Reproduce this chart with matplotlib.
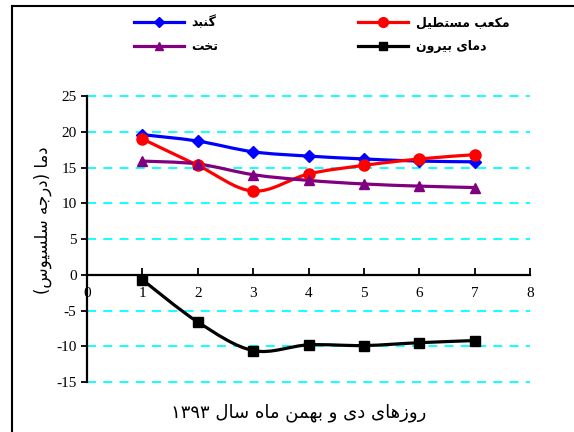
import matplotlib
matplotlib.use("Agg")
import matplotlib.pyplot as plt
from matplotlib.path import Path
from matplotlib.patches import PathPatch
from matplotlib.lines import Line2D
import numpy as np

# داده‌ها
days = [1, 2, 3, 4, 5, 6, 7]
gonbad = [19.6, 18.7, 17.2, 16.6, 16.2, 15.9, 15.8]
mokaab = [19.0, 15.3, 11.7, 14.1, 15.3, 16.2, 16.8]
takht = [15.9, 15.5, 14.0, 13.2, 12.7, 12.4, 12.2]
birun = [-0.7, -6.6, -10.6, -9.8, -9.9, -9.5, -9.2]

names = ["گنبد", "مکعب مستطیل", "تخت", "دمای بیرون"]
xlabel = "روزهای دی و بهمن ماه سال"
year = "۱۳۹۳"
ylabel = "دما (درجه سلسیوس)"
yticks = [-15, -10, -5, 0, 5, 10, 15, 20, 25]
xticks = [0, 1, 2, 3, 4, 5, 6, 7, 8]

plt.rcParams["axes.unicode_minus"] = False

# شکل‌دهی ساده حروف فارسی (matplotlib حروف را به هم نمی‌چسباند)
FORMS = {
    "ا": (0xFE8D, 0xFE8E, None, None),
    "ب": (0xFE8F, 0xFE90, 0xFE91, 0xFE92),
    "ت": (0xFE95, 0xFE96, 0xFE97, 0xFE98),
    "ج": (0xFE9D, 0xFE9E, 0xFE9F, 0xFEA0),
    "خ": (0xFEA5, 0xFEA6, 0xFEA7, 0xFEA8),
    "د": (0xFEA9, 0xFEAA, None, None),
    "ر": (0xFEAD, 0xFEAE, None, None),
    "ز": (0xFEAF, 0xFEB0, None, None),
    "س": (0xFEB1, 0xFEB2, 0xFEB3, 0xFEB4),
    "ط": (0xFEC1, 0xFEC2, 0xFEC3, 0xFEC4),
    "ع": (0xFEC9, 0xFECA, 0xFECB, 0xFECC),
    "ل": (0xFEDD, 0xFEDE, 0xFEDF, 0xFEE0),
    "م": (0xFEE1, 0xFEE2, 0xFEE3, 0xFEE4),
    "ن": (0xFEE5, 0xFEE6, 0xFEE7, 0xFEE8),
    "ه": (0xFEE9, 0xFEEA, 0xFEEB, 0xFEEC),
    "و": (0xFEED, 0xFEEE, None, None),
    "ی": (0xFBFC, 0xFBFD, 0xFBFE, 0xFBFF),
    "ک": (0xFB8E, 0xFB8F, 0xFB90, 0xFB91),
    "گ": (0xFB92, 0xFB93, 0xFB94, 0xFB95),
}
MIRROR = {"(": ")", ")": "("}


def shape(text):
    out = []
    n = len(text)
    for i, ch in enumerate(text):
        if ch not in FORMS:
            out.append(MIRROR.get(ch, ch))
            continue
        f = FORMS[ch]
        prev = text[i - 1] if i > 0 else ""
        nxt = text[i + 1] if i < n - 1 else ""
        join_prev = prev in FORMS and FORMS[prev][2] is not None
        join_next = nxt in FORMS and f[2] is not None
        if join_prev and join_next:
            code = f[3]
        elif join_prev:
            code = f[1]
        elif join_next:
            code = f[2]
        else:
            code = f[0]
        out.append(chr(code))
    return "".join(out[::-1])


def smooth_path(x, y):
    # منحنی هموار مانند اکسل (بزیه از روی نقاط)
    p = np.column_stack([x, y]).astype(float)
    verts = [p[0]]
    codes = [Path.MOVETO]
    for i in range(len(p) - 1):
        p0 = p[i - 1] if i > 0 else p[i]
        p3 = p[i + 2] if i + 2 < len(p) else p[i + 1]
        c1 = p[i] + (p[i + 1] - p0) / 6
        c2 = p[i + 1] - (p3 - p[i]) / 6
        verts += [c1, c2, p[i + 1]]
        codes += [Path.CURVE4] * 3
    return Path(verts, codes)


fig = plt.figure(figsize=(5.74, 4.32), dpi=100)
ax = fig.add_axes([0.1516, 0.1157, 0.7718, 0.662])

series = [
    (gonbad, "blue", "D", 6),
    (mokaab, "red", "o", 8),
    (takht, "purple", "^", 7),
    (birun, "black", "s", 7),
]
handles = []
for (vals, col, mk, ms), name in zip(series, names):
    ax.add_patch(PathPatch(smooth_path(days, vals), fill=False, edgecolor=col,
                           lw=2.3, zorder=3))
    ax.plot(days, vals, linestyle="none", marker=mk, color=col, markersize=ms, zorder=4)
    handles.append(Line2D([], [], color=col, lw=2.3, marker=mk, markersize=ms - 1))

ax.set_xlim(0, 8)
ax.set_ylim(-15, 25)
ax.set_yticks(yticks)
ax.set_xticks(xticks)
for y in yticks:
    if y != 0:
        ax.axhline(y, color="cyan", lw=1.3, ls=(0, (5, 4)), zorder=1, clip_on=False)

ax.spines["top"].set_visible(False)
ax.spines["right"].set_visible(False)
ax.spines["bottom"].set_position(("data", 0))
ax.spines["left"].set_linewidth(1.6)
ax.spines["bottom"].set_linewidth(1.6)
ax.tick_params(axis="x", direction="in", length=5, width=1.3, pad=9)
ax.tick_params(axis="y", direction="out", length=4, width=1.3)
for lab in ax.get_xticklabels() + ax.get_yticklabels():
    lab.set_fontfamily("Liberation Serif")
    lab.set_fontsize(11)

fig.text(0.52, 0.045, year + " " + shape(xlabel), ha="center", va="center",
         fontsize=13, family="DejaVu Sans")
fig.text(0.075, 0.49, shape(ylabel), rotation=90, ha="center", va="center",
         fontsize=12, family="DejaVu Sans")

order = [0, 2, 1, 3]
fig.legend([handles[i] for i in order], [shape(names[i]) for i in order],
           ncol=2, loc="upper left", bbox_to_anchor=(0.213, 0.99), frameon=False,
           handlelength=4.0, handletextpad=0.6, columnspacing=11.2,
           labelspacing=0.85, prop={"family": "DejaVu Sans", "weight": "bold", "size": 9})

# قاب دور شکل
fig.add_artist(Line2D([12 / 574, 12 / 574], [0, 1 - 6 / 432], color="black", lw=1.5,
                      transform=fig.transFigure))
fig.add_artist(Line2D([12 / 574, 1], [1 - 6 / 432, 1 - 6 / 432], color="black", lw=1.5,
                      transform=fig.transFigure))

fig.savefig("out.png", dpi=100)
